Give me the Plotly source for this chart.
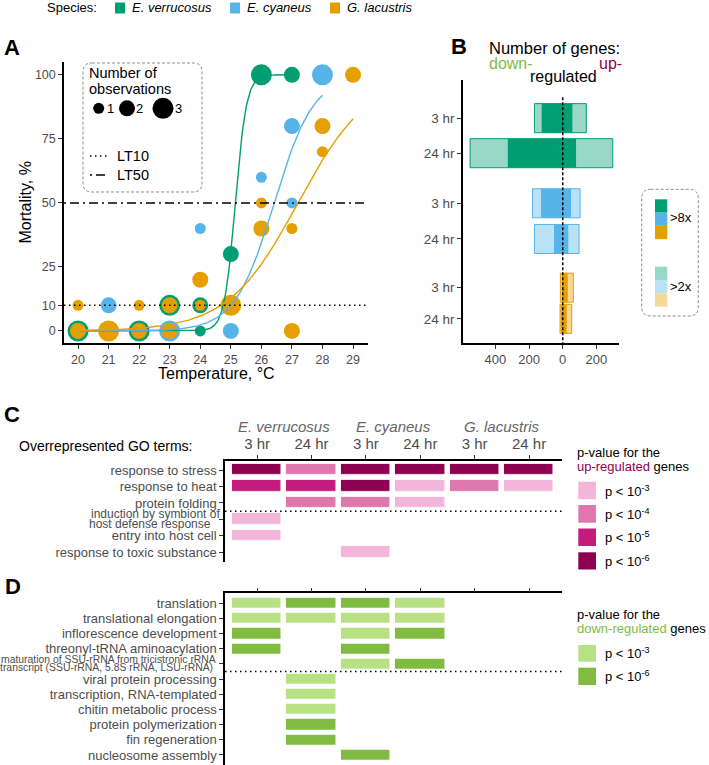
import numpy as np
import plotly.graph_objects as go

W, H = 709, 765
FONT = "Liberation Sans, Arial, Helvetica, sans-serif"
GREY = "#4D4D4D"


def X(p):
    return p / W


def Y(p):
    return 1 - p / H


# ------------------------------------------------------------------ data
species = ["E. verrucosus", "E. cyaneus", "G. lacustris"]
species_colors = ["#009E73", "#56B4E9", "#E69F00"]
species_light = ["#99D8C7", "#BBE1F6", "#F5D999"]

# Panel A: mortality observations (temperature, mortality %, number of observations)
ev_temp = [20, 22, 23, 24, 24, 25, 26, 27]
ev_mort = [0, 0, 10, 0, 10, 30, 100, 100]
ev_nobs = [3, 3, 3, 1, 2, 2, 3, 2]
ec_temp = [21, 23, 24, 25, 26, 27, 27, 28]
ec_mort = [10, 0, 40, 0, 60, 80, 50, 100]
ec_nobs = [2, 3, 1, 2, 1, 2, 1, 3]
gl_temp = [20, 20, 21, 22, 22, 23, 23, 24, 24, 25, 26, 26, 27, 27, 28, 28, 29]
gl_mort = [0, 10, 0, 0, 10, 0, 10, 10, 20, 10, 50, 40, 40, 0, 80, 70, 100]
gl_nobs = [2, 1, 3, 2, 1, 2, 2, 1, 2, 3, 1, 2, 1, 2, 2, 1, 2]
# fitted logistic dose-response curves
fit_lt50 = [25.15, 26.42, 27.2]
fit_slope = [5.5, 1.55, 0.87]
fit_tmin = [20, 20, 20]
fit_tmax = [27, 28, 29]
temp_ticks = list(range(20, 30))
mort_ticks = [0, 10, 25, 50, 75, 100]
lt_levels = [10, 50]

# Panel B: number of differentially expressed genes
deg_time = ["3 hr", "24 hr", "3 hr", "24 hr", "3 hr", "24 hr"]
deg_species = [0, 0, 1, 1, 2, 2]
down_2x = [168, 550, 180, 168, 14, 16]
down_8x = [125, 326, 129, 52, 6, 12]
up_8x = [57, 79, 49, 33, 30, 24]
up_2x = [140, 297, 103, 97, 63, 53]
deg_ticks = [-400, -200, 0, 200]
deg_ticktext = ["400", "200", "0", "200"]

# Panel C/D: GO term enrichment (exponent of the p-value threshold, None = not enriched)
go_columns = ["3 hr", "24 hr", "3 hr", "24 hr", "3 hr", "24 hr"]
up_terms = ["response to stress", "response to heat", "protein folding",
            "induction by symbiont of host defense response",
            "entry into host cell", "response to toxic substance"]
up_pexp = [
    [6, 4, 6, 6, 6, 6],
    [5, 5, 6, 3, 4, 3],
    [None, 4, 4, 3, None, None],
    [3, None, None, None, None, None],
    [3, None, None, None, None, None],
    [None, None, 3, None, None, None],
]
up_levels = [3, 4, 5, 6]
up_colors = ["#F1B6DA", "#DE77AE", "#C51B7D", "#8E0152"]

down_terms = ["translation", "translational elongation", "inflorescence development",
              "threonyl-tRNA aminoacylation",
              "maturation of SSU-rRNA from tricistronic rRNA transcript (SSU-rRNA, 5.8S rRNA, LSU-rRNA)",
              "viral protein processing", "transcription, RNA-templated",
              "chitin metabolic process", "protein polymerization",
              "fin regeneration", "nucleosome assembly"]
down_pexp = [
    [3, 6, 6, 3, None, None],
    [3, 3, 3, 3, None, None],
    [6, None, 3, 6, None, None],
    [6, None, 6, None, None, None],
    [None, None, 3, 6, None, None],
    [None, 3, None, None, None, None],
    [None, 3, None, None, None, None],
    [None, 3, None, None, None, None],
    [None, 6, None, None, None, None],
    [None, 6, None, None, None, None],
    [None, None, 6, None, None, None],
]
down_levels = [3, 6]
down_colors = ["#B8E186", "#7FBC41"]

# ------------------------------------------------------------------ layout constants
SIZE = {1: 11, 2: 16, 3: 21}
B_ROW_POS = [0, 1, 2.43, 3.45, 4.84, 5.73]

fig = go.Figure()

# ---- Panel A points
for temps, morts, nobs, col in [(ev_temp, ev_mort, ev_nobs, species_colors[0]),
                                (ec_temp, ec_mort, ec_nobs, species_colors[1]),
                                (gl_temp, gl_mort, gl_nobs, species_colors[2])]:
    fig.add_trace(go.Scatter(x=temps, y=morts, mode="markers",
                             marker=dict(color=col, size=[SIZE[n] for n in nobs], line=dict(width=0), opacity=1),
                             showlegend=False, hoverinfo="skip", xaxis="x", yaxis="y"))
# ---- Panel A fitted curves
for i in range(3):
    t = np.linspace(fit_tmin[i], fit_tmax[i], 300)
    m = 100 / (1 + np.exp(-fit_slope[i] * (t - fit_lt50[i])))
    fig.add_trace(go.Scatter(x=t, y=m, mode="lines", line=dict(color=species_colors[i], width=1.4),
                             showlegend=False, hoverinfo="skip", xaxis="x", yaxis="y"))

# ---- Panel B bars
for s in range(3):
    idx = [k for k in range(len(deg_species)) if deg_species[k] == s]
    fig.add_trace(go.Bar(y=[B_ROW_POS[k] for k in idx],
                         x=[down_2x[k] + up_2x[k] for k in idx],
                         base=[-down_2x[k] for k in idx], orientation="h", width=0.83,
                         marker=dict(color=species_light[s], line=dict(color=species_colors[s], width=1)),
                         showlegend=False, hoverinfo="skip", xaxis="x2", yaxis="y2"))
    fig.add_trace(go.Bar(y=[B_ROW_POS[k] for k in idx],
                         x=[down_8x[k] + up_8x[k] for k in idx],
                         base=[-down_8x[k] for k in idx], orientation="h", width=0.83,
                         marker=dict(color=species_colors[s], line=dict(width=0)),
                         showlegend=False, hoverinfo="skip", xaxis="x2", yaxis="y2"))


def level_matrix(mat, levels):
    return [[None if v is None else levels.index(v) + 1 for v in row] for row in mat]


def step_scale(colors):
    n = len(colors)
    cs = []
    for i, c in enumerate(colors):
        cs.append([i / n, c])
        cs.append([(i + 1) / n, c])
    return cs


fig.add_trace(go.Heatmap(z=level_matrix(up_pexp, up_levels), x=list(range(6)), y=list(range(len(up_terms))),
                         colorscale=step_scale(up_colors), zmin=0.5, zmax=len(up_levels) + 0.5,
                         showscale=False, xgap=5.5, ygap=5.8, hoverinfo="skip", xaxis="x3", yaxis="y3"))
fig.add_trace(go.Heatmap(z=level_matrix(down_pexp, down_levels), x=list(range(6)), y=list(range(len(down_terms))),
                         colorscale=step_scale(down_colors), zmin=0.5, zmax=len(down_levels) + 0.5,
                         showscale=False, xgap=5.5, ygap=5, hoverinfo="skip", xaxis="x4", yaxis="y4"))

# ------------------------------------------------------------------ axes
axis_common = dict(showline=True, linecolor="black", linewidth=1.5, ticks="outside", ticklen=4,
                   tickwidth=1, tickcolor="#333333", showgrid=False, zeroline=False, automargin=False,
                   tickfont=dict(family=FONT, color=GREY))

# long (two-line) term names are written as separate text lines; their rows get a bare tick
up_short = [k for k, t in enumerate(up_terms) if len(t) < 35]
up_long = [k for k, t in enumerate(up_terms) if len(t) >= 35]
down_short = [k for k, t in enumerate(down_terms) if len(t) < 35]
down_long = [k for k, t in enumerate(down_terms) if len(t) >= 35]
minor_tick = dict(ticks="outside", ticklen=4, tickwidth=1, tickcolor="#333333", showgrid=False)

fig.update_layout(
    width=W, height=H, margin=dict(l=0, r=0, t=0, b=0),
    paper_bgcolor="white", plot_bgcolor="white", barmode="overlay",
    font=dict(family=FONT, color="black"),
    xaxis=dict(axis_common, domain=[X(64), X(368)], range=[19.54, 29.49], anchor="y",
               tickvals=temp_ticks, tickfont=dict(size=12.5, family=FONT, color=GREY)),
    yaxis=dict(axis_common, domain=[Y(343), Y(62)], range=[-4.7, 105], anchor="x",
               tickvals=mort_ticks, tickfont=dict(size=12.5, family=FONT, color=GREY)),
    xaxis2=dict(axis_common, domain=[X(463), X(619)], range=[-592, 334], anchor="y2",
                tickvals=deg_ticks, ticktext=deg_ticktext, tickfont=dict(size=13, family=FONT, color=GREY)),
    yaxis2=dict(axis_common, domain=[Y(343), Y(80)], range=[6.42, -1.09], anchor="x2",
                tickvals=B_ROW_POS, ticktext=deg_time, tickfont=dict(size=13.5, family=FONT, color=GREY)),
    xaxis3=dict(axis_common, domain=[X(225), X(561.7)], range=[-0.59, 5.6], anchor="y3", side="top",
                tickvals=list(range(6)), ticktext=go_columns, tickfont=dict(size=15, family=FONT, color=GREY)),
    yaxis3=dict(axis_common, domain=[Y(561.7), Y(460.7)], range=[5.57, -0.57], anchor="x3",
                tickvals=up_short, ticktext=[up_terms[k] for k in up_short],
                minor=dict(minor_tick, tickvals=up_long),
                tickfont=dict(size=13, family=FONT, color=GREY)),
    xaxis4=dict(axis_common, domain=[X(225), X(561.7)], range=[-0.59, 5.6], anchor="y4", side="top",
                tickvals=list(range(6)), showticklabels=False),
    yaxis4=dict(axis_common, domain=[0, Y(593.3)], range=[10.66, -0.66], anchor="x4",
                tickvals=down_short, ticktext=[down_terms[k] for k in down_short],
                minor=dict(minor_tick, tickvals=down_long),
                tickfont=dict(size=13, family=FONT, color=GREY)),
)

# ------------------------------------------------------------------ reference lines
fig.add_shape(type="line", xref="x domain", yref="y", x0=0, x1=1, y0=lt_levels[0], y1=lt_levels[0],
              line=dict(color="black", width=1.5, dash="1.5px,3.5px"))
fig.add_shape(type="line", xref="x domain", yref="y", x0=0, x1=1, y0=lt_levels[1], y1=lt_levels[1],
              line=dict(color="black", width=1.5, dash="2px,4px,9px,4px"))
fig.add_shape(type="line", xref="x2", yref="y2", x0=0, x1=0, y0=-0.6, y1=6.42,
              line=dict(color="black", width=1.5, dash="3px,2px"))
fig.add_shape(type="line", xref="x3 domain", yref="y3", x0=0, x1=1, y0=2.5, y1=2.5,
              line=dict(color="black", width=1.5, dash="1.5px,3.5px"))
fig.add_shape(type="line", xref="x4 domain", yref="y4", x0=0, x1=1, y0=4.5, y1=4.5,
              line=dict(color="black", width=1.5, dash="1.5px,3.5px"))


# ------------------------------------------------------------------ helpers
def txt(x, y, text, size, color="black", anchor="left", **kw):
    fig.add_annotation(x=X(x), y=Y(y), xref="paper", yref="paper", text=text, showarrow=False,
                       xanchor=anchor, yanchor="middle", font=dict(size=size, color=color, family=FONT),
                       borderpad=0, **kw)


def rect(x0, y0, x1, y1, color, line=None):
    fig.add_shape(type="rect", xref="paper", yref="paper", x0=X(x0), x1=X(x1), y0=Y(y1), y1=Y(y0),
                  fillcolor=color, line=dict(width=0) if line is None else line, layer="above")


def rrect(x0, y0, x1, y1, r):
    fx = lambda v: f"{v / W:.5f}"
    fy = lambda v: f"{1 - v / H:.5f}"
    path = (f"M {fx(x0 + r)},{fy(y0)} L {fx(x1 - r)},{fy(y0)} Q {fx(x1)},{fy(y0)} {fx(x1)},{fy(y0 + r)} "
            f"L {fx(x1)},{fy(y1 - r)} Q {fx(x1)},{fy(y1)} {fx(x1 - r)},{fy(y1)} "
            f"L {fx(x0 + r)},{fy(y1)} Q {fx(x0)},{fy(y1)} {fx(x0)},{fy(y1 - r)} "
            f"L {fx(x0)},{fy(y0 + r)} Q {fx(x0)},{fy(y0)} {fx(x0 + r)},{fy(y0)} Z")
    fig.add_shape(type="path", xref="paper", yref="paper", path=path,
                  line=dict(color="#8C8C8C", width=1, dash="3px,2px"), fillcolor="rgba(0,0,0,0)")


# ------------------------------------------------------------------ top species legend
txt(46, 8, "Species:", 13)
for (sx, tx), s in zip([(115, 131), (230, 246), (330, 346)], range(3)):
    rect(sx, 2.5, sx + 10, 13.5, species_colors[s])
    txt(tx, 8, f"<i>{species[s]}</i>", 13)

# panel letters
txt(3, 47.5, "<b>A</b>", 22)
txt(450, 46.7, "<b>B</b>", 22)
txt(3, 414, "<b>C</b>", 22)
txt(4, 586.7, "<b>D</b>", 22)

# ------------------------------------------------------------------ panel A texts & legend
txt(216, 373, "Temperature, °C", 16, anchor="center")
fig.add_annotation(x=X(25), y=Y(202.5), xref="paper", yref="paper", text="Mortality, %", showarrow=False,
                   textangle=-90, xanchor="center", yanchor="middle", font=dict(size=16, family=FONT))
rrect(83, 63, 202, 192, 9)
txt(88, 73.3, "Number of", 14.5)
txt(88, 89, "observations", 14.5)
for n, cx, lx in [(1, 98.7, 105.5), (2, 127, 134.5), (3, 163, 173.5)]:
    r = SIZE[n] / 2
    fig.add_shape(type="circle", xref="paper", yref="paper", x0=X(cx - r), x1=X(cx + r),
                  y0=Y(108.3 + r), y1=Y(108.3 - r), fillcolor="black", line=dict(width=0))
    txt(lx, 109, str(n), 13)
fig.add_shape(type="line", xref="paper", yref="paper", x0=X(90), x1=X(107), y0=Y(156), y1=Y(156),
              line=dict(color="black", width=1.5, dash="1.5px,3.5px"))
fig.add_shape(type="line", xref="paper", yref="paper", x0=X(90), x1=X(107), y0=Y(175), y1=Y(175),
              line=dict(color="black", width=1.5, dash="2px,4px,9px,4px"))
txt(116, 156, "LT10", 14.5)
txt(116, 175, "LT50", 14.5)

# ------------------------------------------------------------------ panel B texts & legend
txt(488, 47.5, "Number of genes:", 16.5)
txt(487.5, 63.3, "down-", 16, color="#7FBC41")
txt(597.5, 63, "up-", 16, color="#8E0152")
txt(528.5, 76.7, "regulated", 16)
rrect(641.7, 189.3, 698.3, 316, 9)
for s in range(3):
    rect(655, 199.3 + 13.3 * s, 667.3, 212.6 + 13.3 * s, species_colors[s])
    rect(655, 266.7 + 13.3 * s, 667.3, 280 + 13.3 * s, species_light[s])
txt(668.5, 217, ">8x", 13)
txt(668.5, 286, ">2x", 13)

# ------------------------------------------------------------------ panel C texts & legend
txt(18, 446, "Overrepresented GO terms:", 14)
for k, s in enumerate(species):
    fig.add_annotation(x=2 * k + 0.5, y=Y(426), xref="x3", yref="paper", text=f"<i>{s}</i>",
                       showarrow=False, xanchor="center", yanchor="middle",
                       font=dict(size=15, color="#666666", family=FONT))
txt(220.5, 514.3, "induction by symbiont of", 12, color=GREY, anchor="right")
txt(212.5, 523.5, "host defense response", 12, color=GREY, anchor="right")
txt(576, 452.7, "p-value for the", 13)
txt(576, 466.7, "<span style='color:#8E0152'>up-regulated</span> genes", 13)
for k, (y0, y1) in enumerate([(481.7, 499.3), (505, 522.7), (528.5, 546), (552.3, 569.5)]):
    rect(578.3, y0, 596, y1, up_colors[k])
    txt(604, (y0 + y1) / 2, f"p < 10<sup>-{up_levels[k]}</sup>", 13)

# ------------------------------------------------------------------ panel D texts & legend
txt(217, 659, "maturation of SSU-rRNA from tricistronic rRNA", 10.4, color=GREY, anchor="right")
txt(214, 667.7, "transcript (SSU-rRNA, 5.8S rRNA, LSU-rRNA)", 10.4, color=GREY, anchor="right")
txt(576, 614, "p-value for the", 13)
txt(576, 628.3, "<span style='color:#7FBC41'>down-regulated</span> genes", 13)
for k, (y0, y1) in enumerate([(645, 661.7), (667.7, 685)]):
    rect(578.3, y0, 596, y1, down_colors[k])
    txt(604, (y0 + y1) / 2, f"p < 10<sup>-{down_levels[k]}</sup>", 13)

fig.write_html("out.html", config={"displayModeBar": False},
               post_script="document.body.style.margin='0';document.body.style.padding='0';"
                           "document.documentElement.style.overflow='hidden';")
